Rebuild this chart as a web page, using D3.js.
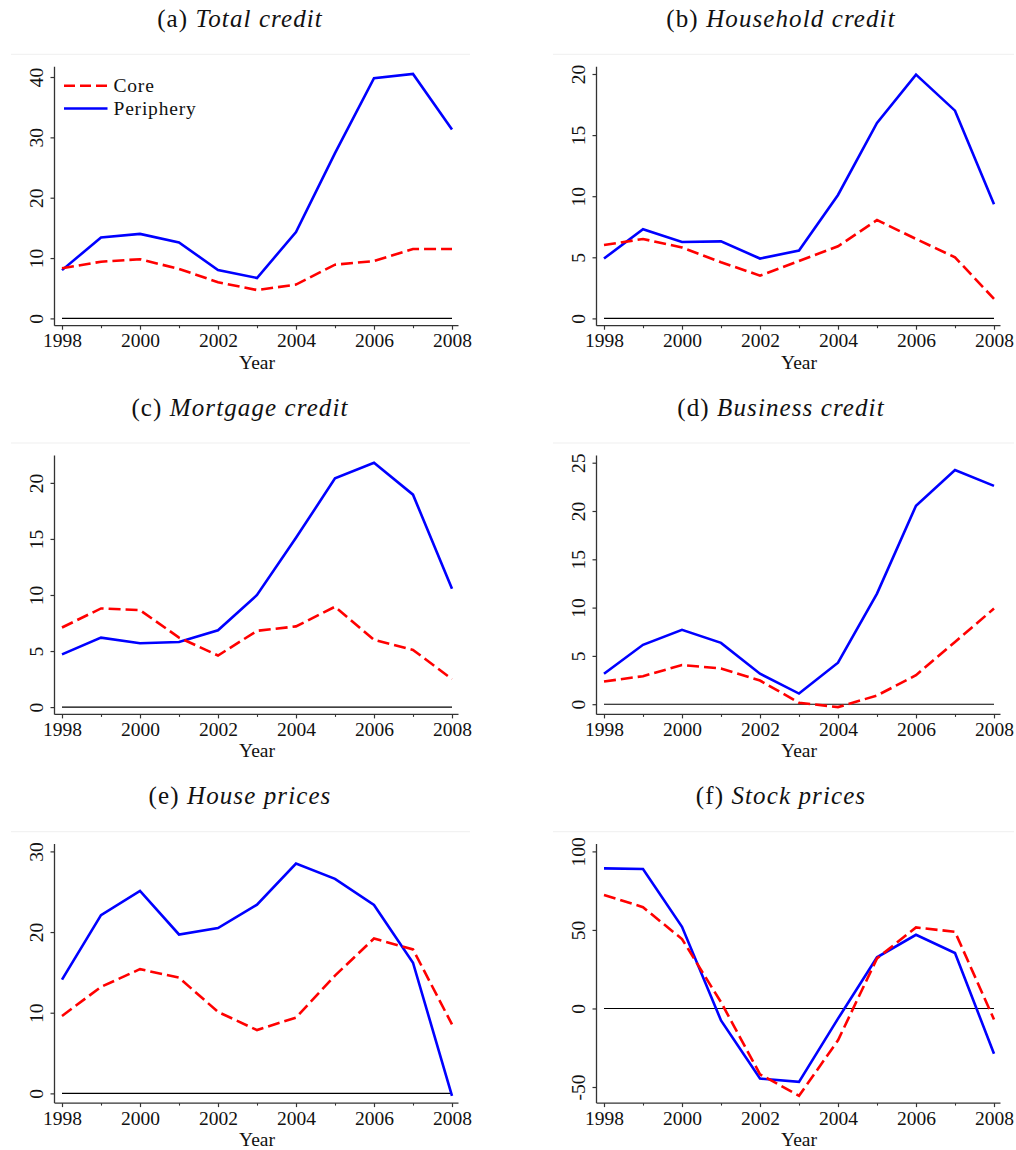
<!DOCTYPE html>
<html>
<head>
<meta charset="utf-8">
<script src="https://cdn.jsdelivr.net/npm/d3@7"></script>
<style>
  html, body { margin: 0; padding: 0; background: #fff; }
  svg { display: block; font-family: "Liberation Serif", "DejaVu Serif", serif; }
</style>
</head>
<body>
<svg id="chart" width="1016" height="1150"></svg>
<script>
// ---------- data ----------
const years = [1998, 1999, 2000, 2001, 2002, 2003, 2004, 2005, 2006, 2007, 2008];
const xTickYears = [1998, 2000, 2002, 2004, 2006, 2008];
const seriesNames = ["Core", "Periphery"];

const panelLetters = ["(a)", "(b)", "(c)", "(d)", "(e)", "(f)"];
const panelTitles = ["Total credit", "Household credit", "Mortgage credit", "Business credit", "House prices", "Stock prices"];

const coreTotal      = [8.3, 9.4, 9.8, 8.2, 6.0, 4.7, 5.6, 8.9, 9.5, 11.5, 11.5];
const periTotal      = [8.0, 13.4, 14.0, 12.6, 8.0, 6.7, 14.3, 27.4, 39.8, 40.5, 31.3];
const yTicksTotal    = [0, 10, 20, 30, 40];

const coreHousehold  = [6.0, 6.5, 5.8, 4.6, 3.5, 4.7, 5.9, 8.05, 6.5, 5.0, 1.6];
const periHousehold  = [4.9, 7.3, 6.25, 6.3, 4.9, 5.55, 10.1, 16.0, 19.95, 17.0, 9.35];
const yTicksHousehold = [0, 5, 10, 15, 20];

const coreMortgage   = [7.1, 8.8, 8.65, 6.2, 4.6, 6.8, 7.2, 8.95, 6.0, 5.1, 2.5];
const periMortgage   = [4.7, 6.2, 5.7, 5.8, 6.85, 10.0, 15.1, 20.4, 21.8, 18.95, 10.55];
const yTicksMortgage = [0, 5, 10, 15, 20];

const coreBusiness   = [2.35, 2.9, 4.05, 3.7, 2.45, 0.15, -0.3, 0.9, 3.0, 6.45, 9.9];
const periBusiness   = [3.15, 6.15, 7.7, 6.35, 3.15, 1.1, 4.3, 11.45, 20.55, 24.25, 22.6];
const yTicksBusiness = [0, 5, 10, 15, 20, 25];

const coreHouse      = [9.6, 13.2, 15.4, 14.35, 10.1, 7.85, 9.4, 14.6, 19.2, 17.85, 8.55];
const periHouse      = [14.1, 22.1, 25.1, 19.7, 20.5, 23.4, 28.5, 26.6, 23.35, 16.2, -0.3];
const yTicksHouse    = [0, 10, 20, 30];

const coreStock      = [72.3, 64.5, 44.2, 4.0, -41.9, -55.6, -20.3, 31.9, 51.6, 48.8, -7.0];
const periStock      = [89.2, 88.8, 52.0, -7.6, -44.6, -46.7, -6.5, 32.6, 46.9, 35.3, -28.8];
const yTicksStock    = [-50, 0, 50, 100];

const panels = [
  { core: coreTotal,     peri: periTotal,     ticks: yTicksTotal,     legend: true },
  { core: coreHousehold, peri: periHousehold, ticks: yTicksHousehold },
  { core: coreMortgage,  peri: periMortgage,  ticks: yTicksMortgage },
  { core: coreBusiness,  peri: periBusiness,  ticks: yTicksBusiness },
  { core: coreHouse,     peri: periHouse,     ticks: yTicksHouse },
  { core: coreStock,     peri: periStock,     ticks: yTicksStock }
];

// ---------- layout ----------
const svg = d3.select("#chart");
const rowStep = 388.7;
const colStep = 542;
const RED = "#ff0000", BLUE = "#0000ff";
const fmt = d => String(d);

panels.forEach((p, i) => {
  const col = i % 2, row = Math.floor(i / 2);
  const ox = col * colStep, oy = row * rowStep;
  const g = svg.append("g");

  const axisX = 54.5 + ox;
  const axisTop = 66.7 + oy, axisBottom = 325.7 + oy;
  const pad = 7.3;

  // faint separator line under title
  g.append("line")
    .attr("x1", 11 + ox).attr("x2", 470 + ox + (col ? 2 : 0))
    .attr("y1", 54.3 + oy).attr("y2", 54.3 + oy)
    .attr("stroke", "#efefef").attr("stroke-width", 1);

  // title
  const title = g.append("text")
    .attr("x", 240 + ox + (col ? -1 : 0)).attr("y", 27 + oy)
    .attr("text-anchor", "middle")
    .attr("font-size", 25).attr("letter-spacing", 1.1)
    .attr("fill", "#111");
  title.append("tspan").text(panelLetters[i] + " ");
  title.append("tspan").attr("font-style", "italic").text(panelTitles[i]);

  const x = d3.scaleLinear().domain([years[0], years[years.length - 1]])
    .range([axisX + 7.5, axisX + 397.5]);
  const allVals = p.core.concat(p.peri, p.ticks);
  const lo = d3.min(allVals), hi = d3.max(allVals);
  const y = d3.scaleLinear().domain([lo, hi]).range([axisBottom - pad, axisTop + pad]);
  const xEnd = x(years[years.length - 1]) + 6.5;

  // y axis
  const yAxis = d3.axisLeft(y).tickValues(p.ticks).tickSize(4).tickPadding(0).tickFormat(fmt);
  const ya = g.append("g").attr("transform", `translate(${axisX},0)`).call(yAxis);
  ya.select(".domain").remove();
  ya.selectAll(".tick line").attr("stroke", "#333").attr("stroke-width", 1.2);
  ya.selectAll(".tick text")
    .attr("x", null).attr("dy", null)
    .attr("transform", "translate(-12,0) rotate(-90)")
    .attr("text-anchor", "middle")
    .attr("font-size", 19.5)
    .attr("font-family", "Liberation Serif, serif")
    .attr("fill", "#111");
  g.append("line").attr("x1", axisX).attr("x2", axisX)
    .attr("y1", axisTop).attr("y2", axisBottom)
    .attr("stroke", "#333").attr("stroke-width", 1.3);

  // x axis
  const xa = g.append("g").attr("transform", `translate(0,${axisBottom})`)
    .call(d3.axisBottom(x).tickValues(xTickYears).tickSize(4).tickPadding(6).tickFormat(fmt));
  xa.select(".domain").remove();
  xa.selectAll(".tick line").attr("stroke", "#333").attr("stroke-width", 1.2);
  xa.selectAll(".tick text")
    .attr("dy", null).attr("y", 21.5)
    .attr("font-size", 19.5)
    .attr("font-family", "Liberation Serif, serif")
    .attr("fill", "#111");
  const minor = g.append("g").attr("transform", `translate(0,${axisBottom})`)
    .call(d3.axisBottom(x).tickValues(years.filter(v => xTickYears.indexOf(v) < 0)).tickSize(2.5).tickFormat(""));
  minor.select(".domain").remove();
  minor.selectAll(".tick line").attr("stroke", "#333").attr("stroke-width", 1.1);
  g.append("line").attr("x1", axisX).attr("x2", xEnd)
    .attr("y1", axisBottom).attr("y2", axisBottom)
    .attr("stroke", "#333").attr("stroke-width", 1.3);

  g.append("text").attr("x", (x.range()[0] + x.range()[1]) / 2).attr("y", axisBottom + 43)
    .attr("text-anchor", "middle").attr("font-size", 19.5).attr("fill", "#111").text("Year");

  // zero line
  g.append("line").attr("x1", x(years[0])).attr("x2", x(years[years.length - 1]))
    .attr("y1", y(0)).attr("y2", y(0))
    .attr("stroke", "#000").attr("stroke-width", 1.1);

  const line = d3.line().x((d, k) => x(years[k])).y(d => y(d));
  g.append("path").datum(p.peri).attr("d", line)
    .attr("fill", "none").attr("stroke", BLUE).attr("stroke-width", 2.6)
    .attr("stroke-linejoin", "miter");
  g.append("path").datum(p.core).attr("d", line)
    .attr("fill", "none").attr("stroke", RED).attr("stroke-width", 2.6)
    .attr("stroke-dasharray", "12,5");

  if (p.legend) {
    const lg = g.append("g");
    const items = [
      { name: seriesNames[0], color: RED, dash: "11,5", dy: 19 },
      { name: seriesNames[1], color: BLUE, dash: null, dy: 41.8 }
    ];
    items.forEach(it => {
      lg.append("line").attr("x1", axisX + 9.5).attr("x2", axisX + 53)
        .attr("y1", axisTop + it.dy).attr("y2", axisTop + it.dy)
        .attr("stroke", it.color).attr("stroke-width", 2.6)
        .attr("stroke-dasharray", it.dash);
      lg.append("text").attr("x", axisX + 59).attr("y", axisTop + it.dy + 6.3)
        .attr("font-size", 19.5).attr("letter-spacing", 0.8).attr("fill", "#111").text(it.name);
    });
  }
});
</script>
</body>
</html>
